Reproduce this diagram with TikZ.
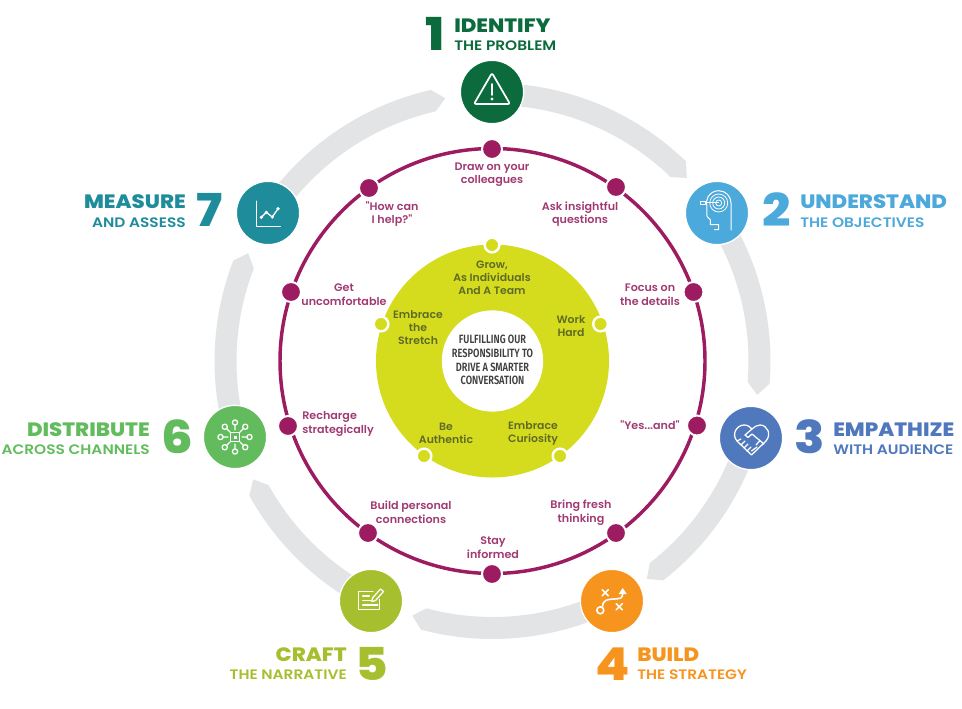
\documentclass[tikz,border=0pt]{standalone}
\usepackage{fontspec}
\setmainfont{Poppins}
\newfontfamily\headfont{Poppins}[UprightFont=* ExtraBold, FakeStretch=1.1]
\newfontfamily\subfont{Poppins}[UprightFont=* SemiBold, FakeStretch=1.12]
\newfontfamily\labelfont{Poppins}[UprightFont=* SemiBold, FakeStretch=1.02]
\newfontfamily\limefont{Poppins}[UprightFont=* SemiBold, FakeStretch=1.02]
\newfontfamily\hubfont{Fira Sans}[UprightFont=* SemiBold, FakeStretch=0.77]
\usetikzlibrary{positioning}

\definecolor{idgreen}{HTML}{0B6B3C}
\definecolor{unblue}{HTML}{4CA9DB}
\definecolor{emblue}{HTML}{4F78BD}
\definecolor{buorange}{HTML}{F7941E}
\definecolor{crlime}{HTML}{A5BF2F}
\definecolor{digreen}{HTML}{62BC5D}
\definecolor{meteal}{HTML}{1E8C9B}
\definecolor{trackgrey}{HTML}{E3E4E5}
\definecolor{ringplum}{HTML}{9C1B61}
\definecolor{labelplum}{HTML}{A03A73}
\definecolor{donutlime}{HTML}{D5DC1E}
\definecolor{donuttext}{HTML}{5F6A25}
\definecolor{hubtext}{HTML}{404040}

% one grey band of the outer track: start angle, shoulder angle, tip angle
\newcommand{\trackband}[3]{%
  \fill[trackgrey, shift={(492.5,-361)}] (#1:278) arc[start angle=#1, end angle=#2, radius=278]
    -- (#3:267) -- (#2:256) arc[start angle=#2, end angle=#1, radius=256] -- cycle;}

\begin{document}
\begin{tikzpicture}[
x=0.75pt, y=0.75pt,
stage/.style={circle, draw=white, line width=1pt, minimum size=47.5pt, inner sep=0pt},
iconline/.style={draw=white, line width=0.95pt, line join=round, line cap=round},
thinline/.style={draw=white, line width=0.6pt, line join=round},
numeral/.style={font=\headfont\fontsize{34}{34}\selectfont, anchor=base west, inner sep=0pt},
headtext/.style={font=\headfont\fontsize{14.5}{15}\selectfont, inner sep=0pt, text depth=0pt},
subtext/.style={font=\subfont\fontsize{10.3}{11}\selectfont, inner sep=0pt, text height=7.5pt, text depth=0pt},
plumdot/.style={circle, fill=ringplum, draw=white, line width=1.5pt, minimum size=15pt, inner sep=0pt},
limedot/.style={circle, fill=donutlime, draw=white, line width=1.8pt, minimum size=11pt, inner sep=0pt},
plumlabel/.style={font=\labelfont\fontsize{8.2}{10.2}\selectfont, text=labelplum, align=center, inner sep=0pt},
limelabel/.style={font=\limefont\fontsize{8}{9.7}\selectfont, text=donuttext, align=center, inner sep=0pt}
]
\useasboundingbox (0,0) rectangle (962,-709);

% outer track
\trackband{90}{45.9}{43.3}
\trackband{33.4}{-4.7}{-7.3}
\trackband{-16.6}{-52.1}{-54.7}
\trackband{-63.4}{-104.9}{-107.5}
\trackband{-116.6}{-151}{-153.7}
\trackband{-163.4}{-201.2}{156.2}
\trackband{146.6}{102.8}{100.2}

% stages
\node[stage, fill=idgreen] (identify) at (492,-92) {};
\node[stage, fill=unblue] (understand) at (717,-213) {};
\node[stage, fill=emblue] (empathize) at (751,-438) {};
\node[stage, fill=buorange] (build) at (612,-601) {};
\node[stage, fill=crlime] (craft) at (371,-601) {};
\node[stage, fill=digreen] (distribute) at (235,-437) {};
\node[stage, fill=meteal] (measure) at (268,-213) {};

% stage titles
\node[numeral, text=idgreen] (idnum) at (425,-51) {1};
\node[headtext, text=idgreen, anchor=base west] (idhead) at (454,-32.5) {IDENTIFY};
\node[subtext, text=idgreen, below right=5.6pt and 0pt of idhead.south west] (idsub) {THE PROBLEM};

\node[numeral, text=unblue] (unnum) at (762,-226) {2};
\node[headtext, text=unblue, anchor=base west] (unhead) at (800,-209) {UNDERSTAND};
\node[subtext, text=unblue, below right=5.6pt and 0pt of unhead.south west] (unsub) {THE OBJECTIVES};

\node[numeral, text=emblue] (emnum) at (794,-453) {3};
\node[headtext, text=emblue, anchor=base west] (emhead) at (833,-436.5) {EMPATHIZE};
\node[subtext, text=emblue, below right=5.6pt and 0pt of emhead.south west] (emsub) {WITH AUDIENCE};

\node[numeral, text=buorange] (bunum) at (595,-680) {4};
\node[headtext, text=buorange, anchor=base west] (buhead) at (637,-661.5) {BUILD};
\node[subtext, text=buorange, below right=5.6pt and 0pt of buhead.south west] (busub) {THE STRATEGY};

\node[numeral, text=crlime] (crnum) at (355,-680) {5};
\node[headtext, text=crlime, anchor=base east] (crhead) at (347,-661.5) {CRAFT};
\node[subtext, text=crlime, below left=5.6pt and 0pt of crhead.south east] (crsub) {THE NARRATIVE};

\node[numeral, text=digreen] (dinum) at (161,-453) {6};
\node[headtext, text=digreen, anchor=base east] (dihead) at (150,-436) {DISTRIBUTE};
\node[subtext, text=digreen, below left=5.6pt and 0pt of dihead.south east] (disub) {ACROSS CHANNELS};

\node[numeral, text=meteal] (menum) at (196,-226) {7};
\node[headtext, text=meteal, anchor=base east] (mehead) at (186,-209) {MEASURE};
\node[subtext, text=meteal, below left=5.6pt and 0pt of mehead.south east] (mesub) {AND ASSESS};

% stage icons
\begin{scope}[shift={(identify)}]
\draw[iconline, line width=1.3pt, rounded corners=1.5pt] (0,19) -- (-18,-12) -- (18,-12) -- cycle;
\draw[iconline, line width=1.3pt] (0,8) -- (0,-3);
\fill[white] (0,-7) circle[radius=1.6];
\end{scope}

\begin{scope}[shift={(understand)}]
\draw[thinline] (1.7,10) circle[radius=3] (1.7,10) circle[radius=6] (1.7,10) circle[radius=9];
\draw[iconline, line width=0.75pt] (14,-17) -- (14,10) arc[start angle=0, end angle=195, radius=12.3]
  -- (-10,-3.3) -- (-6.7,-6.7) -- (-6.7,-11.7) -- (1.7,-11.7) -- (1.7,-16.7) -- (-2.7,-16.7);
\draw[iconline, line width=0.75pt] (1.7,10) -- (-12,10) (-17,8.3) rectangle (-12,11.7);
\end{scope}

\begin{scope}[shift={(empathize)}]
\draw[iconline] (0.5,-17) -- (-14,-3) .. controls (-20,4) and (-14,13) .. (-7,13)
  .. controls (-3,13) and (-1,11) .. (1,9) .. controls (3,11) and (6,13) .. (9,13)
  .. controls (16,13) and (21,4) .. (15,-3) -- cycle;
\draw[iconline] (1,9) -- (-6,3) -- (-3,0.5) -- (1,4) -- (13,-6);
\draw[iconline] (-14,-3) -- (-10,-1) (-10,-7) -- (-6,-3) (-7,-10) -- (-3,-6) (-4,-13) -- (0,-9);
\draw[iconline] (9,-2.5) -- (5,-7) (6,-9) -- (0.5,-13);
\end{scope}

\begin{scope}[shift={(build)}]
\draw[iconline, line width=1.2pt] (-11.7,-9.3) circle[radius=3.5];
\draw[iconline, line width=1.2pt] (-9.7,-6.3) .. controls (-9,2) and (-4,1.5) .. (2,2) .. controls (8,2.5) and (10.7,2) .. (10.7,8);
\fill[white] (10.7,13) -- (6.7,7) -- (14.7,7) -- cycle;
\draw[iconline, line width=1.2pt] (-9.7,5.3) -- (-3.7,11.3) (-9.7,11.3) -- (-3.7,5.3);
\draw[iconline, line width=1.2pt] (4.3,-8.7) -- (10.3,-2.7) (4.3,-2.7) -- (10.3,-8.7);
\end{scope}

\begin{scope}[shift={(craft)}]
\draw[iconline] (2,9.3) -- (-12.3,9.3) -- (-12.3,-8.3) -- (8.3,-8.3) -- (8.3,1.7);
\draw[iconline] (-8.3,5) -- (-1.7,5) (-8.3,0.7) -- (0,0.7) (-8.3,-4) -- (6.7,-4);
\draw[iconline] (1.5,3) -- (9.5,12) -- (12.5,9.5) -- (4.5,0.5) -- (0.8,-0.5) -- cycle;
\end{scope}

\begin{scope}[shift={(distribute)}]
\draw[iconline] (-4.7,-4.7) rectangle (4.7,4.7);
\fill[white] (-1.5,-1.5) rectangle (1.5,1.5);
\draw[iconline] (0:7) -- (0:11.5) (0:14.5) circle[radius=2.6] (45:7) -- (45:11.5) (45:14.5) circle[radius=2.6]
  (90:7) -- (90:11.5) (90:14.5) circle[radius=2.6] (135:7) -- (135:11.5) (135:14.5) circle[radius=2.6]
  (180:7) -- (180:11.5) (180:14.5) circle[radius=2.6] (225:7) -- (225:11.5) (225:14.5) circle[radius=2.6]
  (270:7) -- (270:11.5) (270:14.5) circle[radius=2.6] (315:7) -- (315:11.5) (315:14.5) circle[radius=2.6];
\end{scope}

\begin{scope}[shift={(measure)}]
\draw[iconline] (-11.7,11.7) -- (-11.7,-13.3) -- (12.3,-13.3);
\draw[iconline] (-6.7,-4.3) -- (-1.7,0.7) -- (4.3,-4) -- (10,4.3);
\fill[white] (-6.7,-4.3) circle[radius=1.8] (-1.7,0.7) circle[radius=1.8] (4.3,-4) circle[radius=1.8] (10,4.3) circle[radius=1.8];
\end{scope}

% plum ring
\draw[ringplum, line width=2.6pt] (492.5,-361) circle[radius=212.5];
\node[plumdot] (draw) at (492,-149) {};
\node[plumdot] (ask) at (616,-187) {};
\node[plumdot] (focus) at (693.5,-292) {};
\node[plumdot] (yes) at (697,-425.5) {};
\node[plumdot] (bring) at (616,-533) {};
\node[plumdot] (stay) at (492,-574) {};
\node[plumdot] (connect) at (368,-533) {};
\node[plumdot] (recharge) at (288,-426) {};
\node[plumdot] (get) at (291,-292) {};
\node[plumdot] (how) at (369,-188) {};

\node[plumlabel] (drawtext) at (492,-174.5) {Draw on your\\colleagues};
\node[plumlabel] (asktext) at (580,-214) {Ask insightful\\questions};
\node[plumlabel] (focustext) at (650,-294.5) {Focus on\\the details};
\node[plumlabel] (yestext) at (650,-425) {"Yes...and"};
\node[plumlabel] (bringtext) at (581,-512.5) {Bring fresh\\thinking};
\node[plumlabel] (staytext) at (493,-547.5) {Stay\\informed};
\node[plumlabel] (connecttext) at (411,-512.5) {Build personal\\connections};
\node[plumlabel, align=left, anchor=west] (rechargetext) at (302,-424) {Recharge\\strategically};
\node[plumlabel] (gettext) at (344,-294.5) {Get\\uncomfortable};
\node[plumlabel] (howtext) at (392,-214) {"How can\\I help?"};

% lime donut
\fill[donutlime] (492.5,-361) circle[radius=116.5];
\node[circle, fill=white, minimum size=76pt, inner sep=0pt] (hub) at (492.5,-361) {};
\node[limedot] (grow) at (492,-245) {};
\node[limedot] (work) at (600.5,-324) {};
\node[limedot] (curious) at (560,-456) {};
\node[limedot] (authentic) at (424,-456) {};
\node[limedot] (stretch) at (381,-324) {};

\node[limelabel] (growtext) at (492,-278) {Grow,\\As Individuals\\And A Team};
\node[limelabel] (worktext) at (571,-326.5) {Work\\Hard};
\node[limelabel] (curioustext) at (533,-433.5) {Embrace\\Curiosity};
\node[limelabel] (authentictext) at (446,-433.5) {Be\\Authentic};
\node[limelabel] (stretchtext) at (418,-327.5) {Embrace\\the\\Stretch};

\node[font=\hubfont\fontsize{9}{10.35}\selectfont, text=hubtext, align=center, inner sep=0pt] (hubtext) at (492.5,-360)
{FULFILLING OUR\\RESPONSIBILITY TO\\DRIVE A SMARTER\\CONVERSATION};

\end{tikzpicture}
\end{document}
